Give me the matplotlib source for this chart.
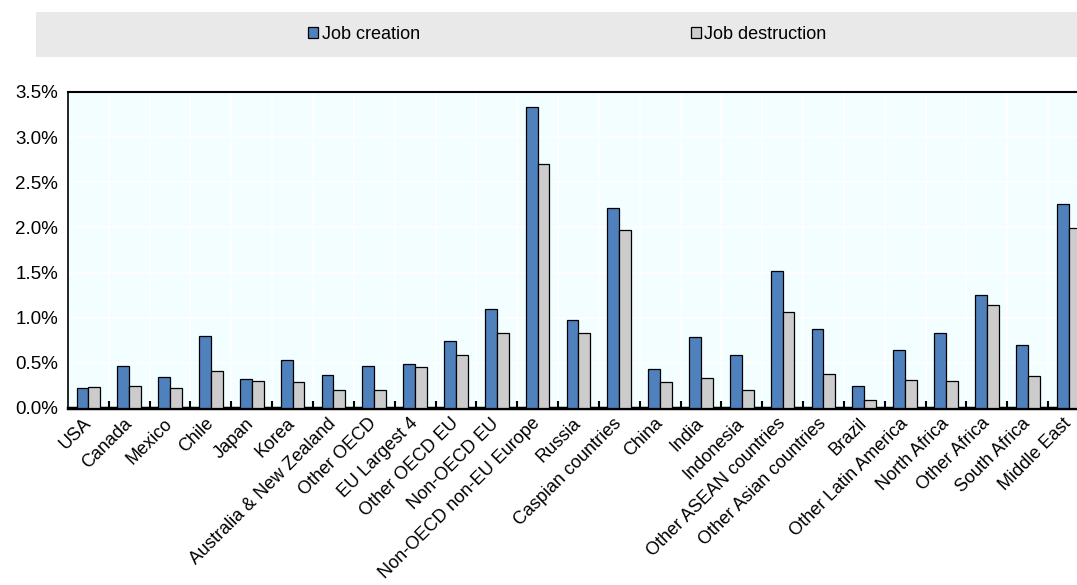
import numpy as np
import matplotlib
matplotlib.use('Agg')
import matplotlib.pyplot as plt
import matplotlib.transforms as mtransforms
from matplotlib.patches import Rectangle
from matplotlib.ticker import FuncFormatter, MultipleLocator

plt.rcParams['font.family'] = ['Liberation Sans', 'DejaVu Sans']

regions = ['USA', 'Canada', 'Mexico', 'Chile', 'Japan', 'Korea',
           'Australia & New Zealand', 'Other OECD', 'EU Largest 4',
           'Other OECD EU', 'Non-OECD EU', 'Non-OECD non-EU Europe', 'Russia',
           'Caspian countries', 'China', 'India', 'Indonesia',
           'Other ASEAN countries', 'Other Asian countries', 'Brazil',
           'Other Latin America', 'North Africa', 'Other Africa',
           'South Africa', 'Middle East']
job_creation = [0.22, 0.46, 0.34, 0.80, 0.32, 0.53, 0.37, 0.47, 0.49, 0.74,
                1.10, 3.33, 0.97, 2.22, 0.43, 0.79, 0.59, 1.52, 0.87, 0.24,
                0.64, 0.83, 1.25, 0.70, 2.26]
job_destruction = [0.23, 0.24, 0.22, 0.41, 0.30, 0.29, 0.20, 0.20, 0.45, 0.59,
                   0.83, 2.70, 0.83, 1.97, 0.29, 0.33, 0.20, 1.06, 0.38, 0.09,
                   0.31, 0.30, 1.14, 0.35, 1.99]

fig = plt.figure(figsize=(10.77, 5.85), dpi=100)

# grey legend band
fig.patches.append(Rectangle((0.0334, 0.9026), 0.98, 0.0769, transform=fig.transFigure,
                             facecolor='#E9E9E9', edgecolor='none', zorder=0))

ax = fig.add_axes([0.0631, 0.3026, 0.948, 0.5402])
ax.set_facecolor('#F2FEFF')

x = np.arange(len(regions))
w = 0.29
ax.bar(x - w / 2, job_creation, w, color='#4F81BD', edgecolor='black', linewidth=0.9,
       label='Job creation', zorder=3)
ax.bar(x + w / 2, job_destruction, w, color='#CCCCCC', edgecolor='black', linewidth=0.9,
       label='Job destruction', zorder=3)

ax.set_xlim(-0.5, len(regions) - 0.5)
ax.set_ylim(0, 3.5)
ax.yaxis.set_major_locator(MultipleLocator(0.5))
ax.yaxis.set_major_formatter(FuncFormatter(lambda v, p: f'{v:.1f}%'))

# category labels, rotated, nudged a bit left/down of the category centre
ax.set_xticks(x)
ax.set_xticklabels([])
lab_tr = ax.get_xaxis_transform() + mtransforms.ScaledTranslation(-6 / 100, -7 / 100, fig.dpi_scale_trans)
for xi, name in zip(x, regions):
    ax.text(xi, 0, name, transform=lab_tr, rotation=45, ha='right', va='top',
            rotation_mode='anchor', fontsize=13)

ax.set_xticks(x[:-1] + 0.5, minor=True)
ax.tick_params(axis='x', which='major', length=0)
ax.tick_params(axis='x', which='minor', direction='in', length=5, width=1.5, color='black')
ax.tick_params(axis='y', length=0, labelsize=13.5, pad=7)

ax.grid(True, which='minor', axis='x', color='white', linewidth=1.2, zorder=1)
ax.grid(True, which='major', axis='y', color='white', linewidth=1.2, zorder=1)
ax.set_axisbelow(True)

ax.spines['left'].set_linewidth(1.2)
ax.spines['top'].set_linewidth(1.5)
ax.spines['bottom'].set_linewidth(2.5)
ax.spines['right'].set_visible(False)

fig.legend(loc='center', bbox_to_anchor=(0.527, 0.941), ncol=2, frameon=False,
           fontsize=13, handlelength=0.55, handleheight=0.55, handletextpad=0.2,
           columnspacing=15.0)

fig.savefig('out.png', dpi=100)
